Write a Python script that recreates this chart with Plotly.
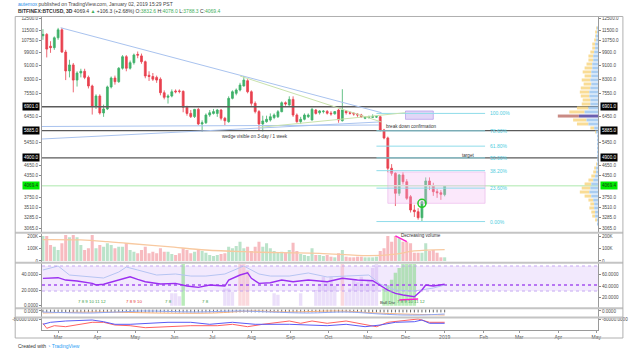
import math
import pandas as pd
import plotly.graph_objects as go

# ---------------- data ----------------
start = pd.Timestamp("2018-02-17")
n_candles = 107
dates = [start + pd.Timedelta(days=3 * i) for i in range(n_candles)]

opens = [11100, 11200, 10350, 10250, 10950, 11550, 9950, 8770, 9130, 8250,
         8650, 8750, 8400, 7930, 6940, 7415, 6620, 6800, 7880, 8365,
         8160, 8930, 9650, 8930, 9270, 9800, 9700, 9330, 8520, 8450,
         8400, 8300, 7580, 7350, 7415, 7670, 7670, 7650, 6880, 6600,
         6460, 6780, 6150, 6200, 6530, 6600, 6600, 6750, 6390, 6245,
         7300, 7550, 7720, 7930, 8215, 7630, 7060, 6680, 6150, 6245,
         6314, 6420, 6456, 6676, 7090, 6980, 7250, 6530, 6245, 6345,
         6456, 6314, 6750, 6630, 6680, 6690, 6610, 6580, 6750, 6285,
         6700, 6632, 6604, 6574, 6531, 6388, 6420, 6430, 6439, 6456,
         5907, 5600, 4571, 4420, 3866, 4371, 4178, 3779, 3457, 3418,
         3284, 3616, 4199, 4068, 3908, 3882, 3832.6]
highs = [11600, 11300, 10700, 11050, 11700, 11700, 10100, 9450, 9250, 8750,
         8900, 8900, 8500, 8000, 7500, 7500, 7000, 7950, 8450, 8500,
         9000, 9750, 9750, 9400, 9850, 9990, 9850, 9400, 8750, 8650,
         8500, 8400, 7700, 7500, 7750, 7750, 7750, 7700, 6950, 6750,
         6800, 6850, 6300, 6600, 6750, 6800, 6800, 6800, 6450, 7400,
         7700, 7800, 8100, 8480, 8300, 7700, 7150, 6750, 6500, 6500,
         6600, 6600, 6750, 7150, 7150, 7400, 7400, 6600, 6450, 6600,
         6600, 6850, 6800, 6750, 6750, 6750, 6700, 6700, 6800, 7760,
         6750, 6700, 6650, 6600, 6580, 6480, 6500, 6560, 6500, 6500,
         5950, 5650, 4700, 4450, 4400, 4450, 4250, 3820, 3580, 3500,
         3680, 4300, 4300, 4150, 3980, 3950, 4078]
lows = [10800, 9600, 9900, 10100, 10800, 9900, 8250, 8400, 7600, 7900,
        8400, 8300, 7800, 6550, 6800, 6550, 6450, 6750, 7800, 8000,
        8100, 8850, 8750, 8850, 9150, 9550, 9200, 8350, 8200, 8200,
        8100, 7450, 7250, 7050, 7350, 7550, 7550, 6650, 6500, 6400,
        6400, 6100, 5840, 6150, 6450, 6550, 6450, 6300, 6100, 6200,
        7250, 7450, 7650, 7900, 7550, 6950, 6600, 5880, 5850, 6200,
        6250, 6350, 6400, 6650, 6950, 6950, 6450, 6200, 6150, 6300,
        6400, 6300, 6550, 6550, 6600, 6550, 6500, 6550, 6200, 6250,
        6550, 6550, 6500, 6450, 6400, 6350, 6380, 6400, 6400, 5850,
        5550, 4450, 4350, 3550, 3800, 4100, 3700, 3400, 3300, 3240,
        3210, 3580, 3950, 3800, 3750, 3700, 3788.3]
closes = [11200, 10150, 10250, 10950, 11550, 9950, 8770, 9130, 8250, 8650,
          8750, 8400, 7930, 6940, 7415, 6620, 6800, 7880, 8365, 8160,
          8930, 9650, 8930, 9270, 9760, 9750, 9330, 8480, 8450, 8300,
          8250, 7580, 7350, 7415, 7630, 7630, 7650, 6880, 6600, 6460,
          6780, 6150, 6200, 6530, 6630, 6680, 6750, 6390, 6285, 7300,
          7630, 7720, 7980, 8250, 7630, 7060, 6680, 6150, 6275, 6345,
          6456, 6530, 6676, 7090, 7030, 7250, 6530, 6245, 6345, 6530,
          6530, 6780, 6600, 6710, 6700, 6610, 6580, 6680, 6314, 6750,
          6632, 6604, 6574, 6531, 6456, 6439, 6456, 6456, 6456, 5907,
          5600, 4571, 4420, 3866, 4371, 4178, 3739, 3457, 3418, 3284,
          3654, 4199, 4068, 3908, 3882, 3840, 4069.4]
volumes_k = [205, 205, 131, 117, 90, 145, 213, 194, 213, 194,
             131, 90, 104, 213, 104, 131, 117, 145, 131, 104,
             117, 117, 145, 90, 76, 63, 90, 117, 63, 76,
             63, 104, 76, 76, 57, 49, 63, 104, 90, 63,
             76, 90, 82, 68, 49, 41, 49, 57, 63, 117,
             104, 123, 158, 104, 117, 82, 117, 158, 117, 145,
             104, 82, 68, 76, 68, 90, 150, 82, 57, 49,
             41, 104, 49, 49, 41, 49, 35, 30, 63, 90,
             35, 30, 30, 35, 35, 30, 30, 30, 35, 82,
             104, 205, 158, 205, 186, 158, 158, 145, 68, 68,
             68, 145, 82, 90, 68, 30, 30]
vol_ma_idx = [0, 10, 17, 22, 33, 43, 53, 63, 73, 86, 93, 98, 106]
vol_ma_k = [175, 172, 158, 145, 117, 90, 76, 68, 63, 44, 57, 82, 93]

# key horizontal levels
level_lines = [6901.0, 5885.0, 4900.0]
last_price = 4069.4
fib_levels = [6600, 5872.4, 5301.2, 4900, 4498.8, 4002.4, 3200]
fib_labels = ["100.00%", "78.60%", "61.80%", "50.00%", "38.20%", "23.60%", "0.00%"]

# trend lines (date, price)
blue_trend_1 = (["2018-03-03", "2018-11-12"], [11713, 6632])
blue_trend_2 = (["2018-02-16", "2018-11-10"], [6046, 6106])
blue_trend_3 = (["2018-02-16", "2018-11-10"], [5560, 6231])
green_trend_1 = (["2018-07-23", "2018-11-12"], [8478, 6230])
green_trend_2 = (["2018-08-08", "2018-12-01"], [6014, 6632])

# volume profile (visible range)
prof_price = [11690, 11380, 11080, 10790, 10500, 10225, 9955, 9690, 9435, 9185,
              8945, 8710, 8480, 8255, 8035, 7825, 7615, 7415, 7220, 7030,
              6845, 6665, 6485, 6315, 6150, 5985, 5825, 5675, 5525, 5380,
              5235, 5095, 4960, 4830, 4705, 4580, 4460, 4340, 4225, 4115,
              4005, 3900, 3795, 3695, 3600, 3505, 3410, 3320, 3235, 3150]
prof_total = [2, 3, 3, 4, 6, 6, 8, 10, 10, 12, 14, 16, 14, 17, 15, 18, 19, 18, 16, 17,
              22, 30, 42, 26, 22, 8, 3, 1, 1, 1, 1, 1, 1, 1, 2, 4, 5, 7, 10, 14,
              17, 19, 14, 10, 8, 9, 7, 6, 3, 1]
prof_up = [1, 1, 2, 2, 3, 3, 4, 5, 5, 6, 6, 7, 7, 8, 7, 8, 9, 9, 8, 8,
           10, 14, 20, 12, 10, 4, 2, 1, 1, 1, 1, 1, 1, 1, 1, 2, 2, 3, 5, 7,
           8, 9, 7, 5, 4, 4, 3, 3, 1, 1]
poc_row = 22

# oscillator panel
rsi_idx = [0, 4, 6, 9, 13, 14, 16, 19, 21, 23, 25, 27, 31, 35, 38, 41, 44, 48, 49, 52,
           54, 55, 57, 60, 63, 66, 70, 75, 79, 83, 87, 89, 91, 93, 95, 98, 100, 101, 103, 106]
rsi_val = [34.9, 35.7, 32.7, 31.5, 28.5, 26.4, 27.3, 31.8, 34.9, 36.9, 33.6, 30.6, 27.6, 28.5,
           25.1, 23.4, 26.4, 25.1, 32.7, 39.1, 42.0, 34.9, 28.5, 29.3, 32.7, 30.6, 32.7, 30.6,
           34.9, 32.7, 31.8, 26.4, 20.0, 15.8, 13.6, 11.5, 20.0, 26.4, 25.1, 27.3]
sig2_idx = [0, 4, 7, 12, 16, 20, 22, 25, 30, 35, 39, 43, 48, 53, 57, 60, 65, 70, 75, 80,
            86, 89, 93, 98, 103, 106]
sig2_val = [45.5, 50.6, 39.1, 36.6, 35.3, 42.9, 49.3, 45.5, 39.1, 40.4, 37.8, 37.8, 40.4,
            50.6, 40.4, 37.8, 37.8, 41.7, 36.6, 37.8, 39.1, 27.6, 20.0, 18.7, 22.5, 26.4]
hist_idx = [34, 35, 36, 37, 48, 49, 50, 52, 53, 54, 61, 62, 68, 72, 73, 74, 75, 76, 77, 79,
            80, 81, 82, 83, 84, 85, 86, 87, 88, 90, 91, 92, 93, 94, 95, 96, 97, 98]
hist_val = [16, 16, 12, 53, 22, 22, 18, 53, 53, 45, 16, 14, 16, 20, 28, 37, 30, 37, 25, 53,
            18, 22, 33, 30, 37, 28, 33, 48, 53, 22, 26, 33, 42, 48, 53, 53, 53, 53]
hist_kind = ["p", "p", "p", "g", "p", "p", "p", "r", "r", "r", "p", "p", "p", "p", "p", "p", "p",
             "p", "p", "r", "p", "p", "p", "p", "p", "p", "p", "p", "p", "g", "g", "g", "g", "g",
             "g", "g", "g", "g"]
band_low, band_high, mid_line = 18.7, 50.6, 26.4
bull_div_idx = [94, 99]
bull_div_val = [7.3, 8.5]

# small panel
small_blue_idx = [0, 13, 26, 40, 52, 60, 70, 80, 89, 95, 100, 106]
small_blue_val = [-1, -2, 0, -1, 0, -1, -2, -1, -3, -4, -4, -3]
small_or_idx = [0, 15, 30, 45, 55, 65, 78, 88, 95, 106]
small_or_val = [-2, -1, -2, -2, 0, -1, 0, -2, -3, -4]

# bottom panel
bot_blue_idx = [0, 2, 6, 13, 16, 19, 23, 28, 33, 39, 44, 50, 56, 65, 75, 80, 85, 89, 93, 98, 100, 102, 106]
bot_blue_val = [-180e3, -140e3, -114e3, -94e3, -128e3, -180e3, -180e3, -160e3, -140e3, -140e3, -180e3,
                -140e3, -180e3, -180e3, -208e3, -180e3, -228e3, -194e3, -140e3, -128e3, -94e3, -160e3, -160e3]
bot_red_idx = [0, 1, 3, 6, 13, 16, 19, 23, 27, 33, 39, 46, 50, 54, 58, 65, 68, 71, 75, 80, 85, 88, 91,
               95, 99, 102, 106]
bot_red_val = [-160e3, -260e3, -208e3, -228e3, -140e3, -140e3, -194e3, -208e3, -248e3, -228e3, -208e3,
               -208e3, -180e3, -228e3, -180e3, -114e3, -160e3, -114e3, -160e3, -114e3, -180e3, -228e3,
               -140e3, -114e3, -74e3, -140e3, -140e3]

month_ticks = ["2018-03-01", "2018-04-01", "2018-05-01", "2018-06-01", "2018-07-01", "2018-08-01",
               "2018-09-01", "2018-10-01", "2018-11-01", "2018-12-01", "2019-01-01", "2019-02-01",
               "2019-03-01", "2019-04-01", "2019-05-01"]
month_text = ["Mar", "Apr", "May", "Jun", "Jul", "Aug", "Sep", "Oct", "Nov", "Dec", "2019", "Feb",
              "Mar", "Apr", "May"]
price_ticks = [3065, 3285, 3510, 3750, 4350, 4650, 5450, 6450, 7550, 8300, 9100, 9900, 10750, 11500, 12500]

# ---------------- style ----------------
FONT = "Liberation Sans, Arial, sans-serif"
UP, DN = "#3fb16a", "#e8414f"
X0, X1 = "2018-02-16 06:00", "2019-05-02 09:00"
TXT = "#4a4a4a"

fig = go.Figure()

# ---- main panel ----
fig.add_trace(go.Scatter(x=[X0, X1], y=[last_price, last_price], mode="lines",
                         line=dict(color="#c8f0c8", width=1.5), hoverinfo="skip", showlegend=False))
for lv in level_lines:
    fig.add_trace(go.Scatter(x=[X0, X1], y=[lv, lv], mode="lines",
                             line=dict(color="#5a5a5a", width=1.3), hoverinfo="skip", showlegend=False))

fig.add_trace(go.Scatter(x=["2018-11-17", "2019-02-02", "2019-02-02", "2018-11-17", "2018-11-17"],
                         y=[4459, 4459, 3616, 3616, 4459], mode="lines", fill="toself",
                         fillcolor="rgba(243,190,243,0.35)", line=dict(color="rgba(230,160,230,0.6)", width=0.8),
                         hoverinfo="skip", showlegend=False))
fig.add_trace(go.Scatter(x=["2018-12-01", "2018-12-23", "2018-12-23", "2018-12-01", "2018-12-01"],
                         y=[6707, 6707, 6345, 6345, 6707], mode="lines", fill="toself",
                         fillcolor="rgba(200,180,240,0.55)", line=dict(color="rgba(170,140,230,0.8)", width=0.8),
                         hoverinfo="skip", showlegend=False))

for lv in fib_levels:
    fig.add_trace(go.Scatter(x=["2018-11-08", "2019-02-02"], y=[lv, lv], mode="lines",
                             line=dict(color="#8fdcea", width=1), hoverinfo="skip", showlegend=False))

for (xs, ys), col in [(blue_trend_1, "#a9c3ef"), (blue_trend_2, "#a9c3ef"), (blue_trend_3, "#a9c3ef"),
                      (green_trend_1, "#c9e2ac"), (green_trend_2, "#c9e2ac")]:
    fig.add_trace(go.Scatter(x=xs, y=ys, mode="lines", line=dict(color=col, width=1),
                             hoverinfo="skip", showlegend=False))

fig.add_trace(go.Candlestick(x=dates, open=opens, high=highs, low=lows, close=closes,
                             increasing=dict(line=dict(color=UP, width=0.8), fillcolor=UP),
                             decreasing=dict(line=dict(color=DN, width=0.8), fillcolor=DN),
                             whiskerwidth=0, hoverinfo="skip", showlegend=False))

fig.add_trace(go.Scatter(x=[dates[100]], y=[3616], mode="markers",
                         marker=dict(symbol="circle-open", size=8, color="#22cc22", line=dict(width=1.5)),
                         hoverinfo="skip", showlegend=False))

# volume profile
bx, by, yx, yy = [], [], [], []
for i, (p, t, u) in enumerate(zip(prof_price, prof_total, prof_up)):
    if i == poc_row:
        continue
    bx += [0, u, None]; by += [p, p, None]
    yx += [u, t, None]; yy += [p, p, None]
fig.add_trace(go.Scatter(x=yx, y=yy, xaxis="x2", yaxis="y", mode="lines",
                         line=dict(color="rgba(248,214,130,0.85)", width=3), hoverinfo="skip", showlegend=False))
fig.add_trace(go.Scatter(x=bx, y=by, xaxis="x2", yaxis="y", mode="lines",
                         line=dict(color="rgba(160,200,240,0.9)", width=3), hoverinfo="skip", showlegend=False))
pp = prof_price[poc_row]
fig.add_trace(go.Scatter(x=[prof_up[poc_row], prof_total[poc_row]], y=[pp, pp], xaxis="x2", yaxis="y",
                         mode="lines", line=dict(color="#c98a84", width=3), hoverinfo="skip", showlegend=False))
fig.add_trace(go.Scatter(x=[0, prof_up[poc_row]], y=[pp, pp], xaxis="x2", yaxis="y",
                         mode="lines", line=dict(color="#6a5fb0", width=3), hoverinfo="skip", showlegend=False))

# ---- volume panel ----
vol = [v * 1000 for v in volumes_k]
vcol = ["rgba(120,200,150,0.5)" if c >= o else "rgba(240,120,130,0.5)" for o, c in zip(opens, closes)]
fig.add_trace(go.Bar(x=dates, y=vol, marker=dict(color=vcol, line=dict(width=0)), width=3 * 86400000 * 0.8,
                     yaxis="y2", hoverinfo="skip", showlegend=False))
fig.add_trace(go.Scatter(x=[dates[i] for i in vol_ma_idx], y=[v * 1000 for v in vol_ma_k], yaxis="y2",
                         mode="lines", line=dict(color="#f8c9a0", width=1.3, shape="spline"),
                         hoverinfo="skip", showlegend=False))
fig.add_trace(go.Scatter(x=[dates[93], dates[96]], y=[vol[93], vol[96]], yaxis="y2", mode="lines",
                         line=dict(color="#ff1fd0", width=1.5), hoverinfo="skip", showlegend=False))

# ---- oscillator panel ----
hcol_map = {"p": "rgba(190,150,240,0.30)", "g": "rgba(100,210,100,0.45)", "r": "rgba(245,160,170,0.40)"}
fig.add_trace(go.Bar(x=[dates[i] for i in hist_idx], y=hist_val, yaxis="y3",
                     marker=dict(color=[hcol_map[k] for k in hist_kind], line=dict(width=0)),
                     width=3 * 86400000 * 0.9, hoverinfo="skip", showlegend=False))
fig.add_trace(go.Scatter(x=[X0, X1], y=[mid_line, mid_line], yaxis="y3", mode="lines",
                         line=dict(color="#a450f0", width=1.3, dash="dot"), hoverinfo="skip", showlegend=False))
fig.add_trace(go.Scatter(x=[dates[i] for i in sig2_idx], y=sig2_val, yaxis="y3", mode="lines",
                         line=dict(color="#b6c4f2", width=1), hoverinfo="skip", showlegend=False))
fig.add_trace(go.Scatter(x=[dates[i] for i in rsi_idx], y=rsi_val, yaxis="y3", mode="lines",
                         line=dict(color="#9b30f0", width=1.4), hoverinfo="skip", showlegend=False))
fig.add_trace(go.Scatter(x=[dates[i] for i in bull_div_idx], y=bull_div_val, yaxis="y3", mode="lines",
                         line=dict(color="#ff1fd0", width=1.5), hoverinfo="skip", showlegend=False))

# ---- small panel ----
fig.add_trace(go.Scatter(x=dates, y=[0] * n_candles, yaxis="y4", mode="markers",
                         marker=dict(symbol="line-ns", size=2, color="#666", line=dict(width=1, color="#666")),
                         hoverinfo="skip", showlegend=False))
fig.add_trace(go.Scatter(x=[dates[i] for i in small_or_idx], y=small_or_val, yaxis="y4", mode="lines",
                         line=dict(color="#f5b07a", width=1, shape="spline"), hoverinfo="skip", showlegend=False))
fig.add_trace(go.Scatter(x=[dates[i] for i in small_blue_idx], y=small_blue_val, yaxis="y4", mode="lines",
                         line=dict(color="#8fa8f5", width=1, shape="spline"), hoverinfo="skip", showlegend=False))

# ---- bottom panel ----
fig.add_trace(go.Scatter(x=[dates[i] for i in bot_red_idx], y=bot_red_val, yaxis="y5", mode="lines",
                         line=dict(color="#ff6060", width=1), hoverinfo="skip", showlegend=False))
fig.add_trace(go.Scatter(x=[dates[i] for i in bot_blue_idx], y=bot_blue_val, yaxis="y5", mode="lines",
                         line=dict(color="#5a5af5", width=1), hoverinfo="skip", showlegend=False))

for ax, val in [("y6", closes[0]), ("y7", 0), ("y8", 40), ("y9", 0), ("y10", -80000)]:
    fig.add_trace(go.Scatter(x=[dates[0]], y=[val], yaxis=ax, mode="markers", marker=dict(opacity=0),
                             hoverinfo="skip", showlegend=False))

# ---------------- layout ----------------
tickfont = dict(family=FONT, size=4.6, color=TXT)
D_MAIN = [0.3131, 1.0]
D_VOL = [0.2173, 0.3083]
D_OSC = [0.0703, 0.2125]
D_SMALL = [0.0415, 0.0687]
D_BOT = [0.0, 0.0383]


def yax(domain, rng, tv, tt, side="left", overlay=None, typ="linear"):
    d = dict(domain=domain, range=rng, tickvals=tv, ticktext=tt, side=side, anchor="x",
             type=typ, showgrid=False, zeroline=False, showline=True, linecolor="#9a9a9a", linewidth=1,
             ticks="outside", ticklen=2, tickcolor="#888", tickfont=tickfont, fixedrange=True)
    if overlay:
        d["overlaying"] = overlay
    return d


main_rng = [math.log10(2984), math.log10(12584)]
main_tt = ["%.1f" % v for v in price_ticks]
vol_tv, vol_tt = [0, 100000, 200000], ["0", "100K", "200K"]

fig.update_layout(
    width=640, height=352, margin=dict(l=30, r=29, t=17, b=22),
    paper_bgcolor="white", plot_bgcolor="white", showlegend=False,
    font=dict(family=FONT, color=TXT), barmode="overlay",
    xaxis=dict(domain=[0, 1], anchor="y5", type="date", range=[X0, X1], tickvals=month_ticks,
               ticktext=month_text, tickfont=dict(family=FONT, size=5, color=TXT), showgrid=False,
               zeroline=False, showline=True, linecolor="#9a9a9a", ticks="outside", ticklen=2,
               tickcolor="#999", rangeslider=dict(visible=False), fixedrange=True),
    xaxis2=dict(domain=[0, 1], overlaying="x", range=[581, 0], visible=False, anchor="y", fixedrange=True),
    yaxis=yax(D_MAIN, main_rng, price_ticks, main_tt, typ="log"),
    yaxis6=yax(D_MAIN, main_rng, price_ticks, main_tt, side="right", overlay="y", typ="log"),
    yaxis2=yax(D_VOL, [-8200, 225000], vol_tv, vol_tt),
    yaxis7=yax(D_VOL, [-8200, 225000], vol_tv, vol_tt, side="right", overlay="y2"),
    yaxis3=yax(D_OSC, [-2.9, 53.8], [0, 20, 40], ["0.0000", "20.0000", "40.0000"]),
    yaxis8=yax(D_OSC, [2.4, 78.5], [20, 40, 60], ["20.0000", "40.0000", "60.0000"], side="right", overlay="y3"),
    yaxis4=yax(D_SMALL, [-6, 2.5], [0], ["0.0000"]),
    yaxis9=yax(D_SMALL, [-6, 2.5], [0], ["0.0000"], side="right", overlay="y4"),
    yaxis5=yax(D_BOT, [-294000, -54000], [-80000], ["-80000.0000"]),
    yaxis10=yax(D_BOT, [-294000, -54000], [-80000], ["-80000.0000"], side="right", overlay="y5"),
)

shapes = []
shapes.append(dict(type="rect", xref="paper", yref="y3", x0=0, x1=1, y0=band_low, y1=band_high,
                   fillcolor="rgba(222,200,250,0.40)", line=dict(width=0), layer="below"))
for yv in (band_low, band_high):
    shapes.append(dict(type="line", xref="paper", yref="y3", x0=0, x1=1, y0=yv, y1=yv,
                       line=dict(color="rgba(185,150,240,0.8)", width=1, dash="dot")))
for yp in (0.3107, 0.2149, 0.0695, 0.0399):
    shapes.append(dict(type="line", xref="paper", yref="paper", x0=-0.048, x1=1.045, y0=yp, y1=yp,
                       line=dict(color="#c4c4c4", width=2)))
shapes.append(dict(type="rect", xref="paper", yref="paper", x0=-0.0482, x1=1.0448, y0=-0.0256, y1=1.0016,
                   line=dict(color="#b0b0b0", width=1), fillcolor="rgba(0,0,0,0)"))
fig.update_layout(shapes=shapes)

ann = []


def box(text, price, side, bg="#000000", fg="#ffffff"):
    ann.append(dict(xref="paper", yref="y", x=(-0.004 if side == "l" else 1.004), y=math.log10(price),
                    xanchor=("right" if side == "l" else "left"), yanchor="middle", text=text, showarrow=False,
                    bgcolor=bg, font=dict(family=FONT, size=4.6, color=fg), borderpad=1))


for lv in level_lines:
    box("%.1f" % lv, lv, "l"); box("%.1f" % lv, lv, "r")
box("%.1f" % last_price, last_price, "l", bg="#00ee00", fg="#1a3a1a")
box("%.1f" % last_price, last_price, "r", bg="#00ee00", fg="#1a3a1a")

for lv, lb in zip(fib_levels, fib_labels):
    ann.append(dict(xref="x", yref="y", x="2019-02-04", y=math.log10(lv), xanchor="left", yanchor="middle",
                    text=lb, showarrow=False, font=dict(family=FONT, size=5, color="#4fcde0")))

ann.append(dict(xref="x", yref="y", x=dates[90], y=math.log10(6040), xanchor="left", yanchor="middle",
                text="break down confirmation", showarrow=False, font=dict(family=FONT, size=4.6, color="#333")))
ann.append(dict(xref="x", yref="y", x=dates[56], y=math.log10(5660), xanchor="center", yanchor="middle",
                text="wedge visible on 3-day / 1 week", showarrow=False, font=dict(family=FONT, size=4.6, color="#333")))
ann.append(dict(xref="x", yref="y", x="2019-01-13", y=math.log10(4990), xanchor="left", yanchor="middle",
                text="target", showarrow=False, font=dict(family=FONT, size=4.6, color="#333")))
ann.append(dict(xref="x", yref="y2", x=dates[94], y=205000, xanchor="left", yanchor="middle",
                text="Decreasing volume", showarrow=False, font=dict(family=FONT, size=4.6, color="#333")))

td = [(dates[13], "7 8 9 10 11 12", "#43a047"), (dates[24], "7 8 9 10", "#e53935"),
      (dates[33], "7 8", "#43a047"), (dates[43], "7 8", "#43a047"), (dates[97], "7 8 9 10 11 12", "#43a047")]
for xd, t, c in td:
    ann.append(dict(xref="x", yref="y3", x=xd, y=6, xanchor="center", yanchor="middle", text=t,
                    showarrow=False, font=dict(family=FONT, size=4.4, color=c)))
ann.append(dict(xref="x", yref="y3", x=dates[91], y=4, xanchor="center", yanchor="middle", text="Bull Div",
                showarrow=False, font=dict(family=FONT, size=4.4, color="#333")))

ann.append(dict(xref="paper", yref="paper", x=-0.0465, y=1.0415, xanchor="left", yanchor="middle",
                text="<span style='color:#2a8de8'>autemox</span> published on TradingView.com, January 02, 2019 15:29 PST",
                showarrow=False, font=dict(family=FONT, size=5, color="#444")))
G = "#3fae5a"
ann.append(dict(xref="paper", yref="paper", x=-0.0465, y=1.0192, xanchor="left", yanchor="middle",
                text=("<b>BITFINEX:BTCUSD, 3D</b> 4069.4 <span style='color:%s'>▲</span> +106.3 (+2.68%%) "
                      "O:<span style='color:%s'>3832.6</span> H:<span style='color:%s'>4078.0</span> "
                      "L:<span style='color:%s'>3788.3</span> C:<span style='color:%s'>4069.4</span>") % (G, G, G, G, G),
                showarrow=False, font=dict(family=FONT, size=5, color="#333")))
ann.append(dict(xref="paper", yref="paper", x=-0.0465, y=-0.0511, xanchor="left", yanchor="middle",
                text="Created with <span style='color:#2a9df4'>◔ TradingView</span>",
                showarrow=False, font=dict(family=FONT, size=5, color="#333")))
fig.update_layout(annotations=ann)

fig.write_html("out.html")
